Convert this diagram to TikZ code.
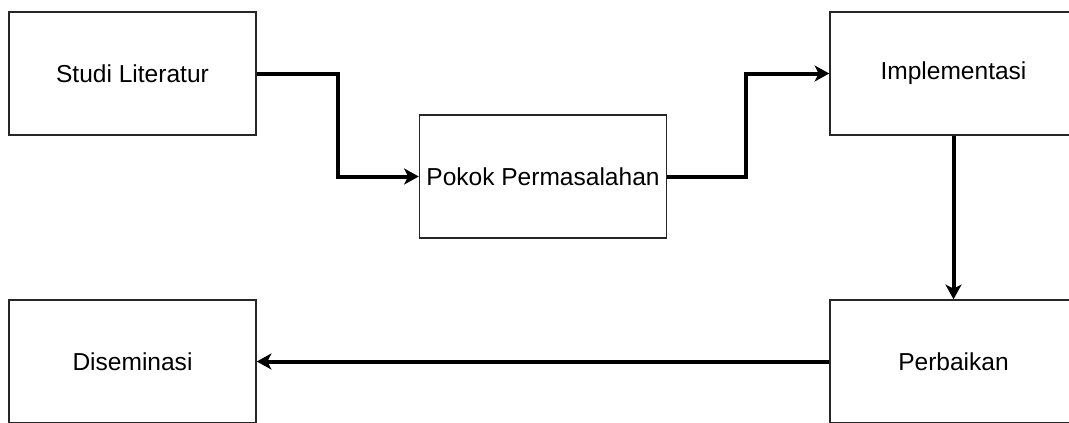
\documentclass[tikz,border=0pt]{standalone}
\usepackage{fontspec}
\setmainfont{Liberation Sans}
\usetikzlibrary{arrows.meta}
\begin{document}
\begin{tikzpicture}[x=0.75pt,y=-0.75pt,
  stepbox/.style={draw=black!85, line width=1.1pt, fill=white,
    minimum width=185.25pt, minimum height=92.25pt, inner sep=0pt,
    font=\fontsize{18.4}{22}\selectfont},
  flow/.style={line width=3pt, line join=miter,
    -{Stealth[length=11pt,width=12pt,inset=3pt]}}]
\useasboundingbox (0,0) rectangle (1069,422);
\clip (0,0) rectangle (1069,422);
\node[stepbox] (studi) at (132.5,73.5) {Studi Literatur};
\node[stepbox] (pokok) at (543,176.5) {Pokok Permasalahan};
\node[stepbox] (impl)  at (953.5,73.5) {Implementasi};
\node[stepbox] (dis)   at (132.5,361.5) {Diseminasi};
\node[stepbox] (perb)  at (953.5,361.5) {Perbaikan};
\coordinate (b1) at (338,0);
\coordinate (b2) at (746,0);
\draw[flow] (studi.east) -- (b1 |- studi.east) -- (b1 |- pokok.west) -- (pokok.west);
\draw[flow] (pokok.east) -- (b2 |- pokok.east) -- (b2 |- impl.west) -- (impl.west);
\draw[flow] (impl.south) -- (perb.north);
\draw[flow] (perb.west) -- (dis.east);
\end{tikzpicture}
\end{document}
